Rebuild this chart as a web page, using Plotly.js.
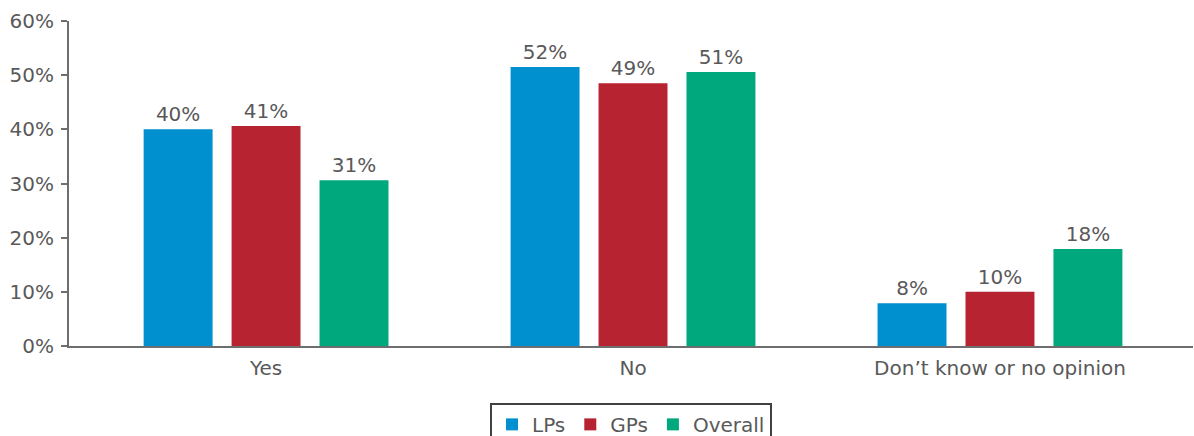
<!DOCTYPE html>
<html>
<head>
<meta charset="utf-8">
<script src="https://cdn.plot.ly/plotly-3.0.1.min.js"></script>
<style>html,body{margin:0;padding:0;background:#fff;}#chart{width:1194px;height:436px;}</style>
</head>
<body>
<div id="chart"></div>
<script>
const categories = ["Yes", "No", "Don\u2019t know or no opinion"];
const seriesNames = ["LPs", "GPs", "Overall"];
const lpValues = [40.0, 51.5, 7.9];
const gpValues = [40.6, 48.5, 10.0];
const overallValues = [30.6, 50.6, 17.9];
const seriesColors = ["#0090d0", "#b72331", "#00a87e"];
const yTickVals = [0, 10, 20, 30, 40, 50, 60];
const yTickText = ["0%", "10%", "20%", "30%", "40%", "50%", "60%"];

const textColor = "#595959";
const fontFamily = "'DejaVu Sans', sans-serif";
const values = [lpValues, gpValues, overallValues];

const traces = values.map((v, i) => ({
  type: "bar",
  name: seriesNames[i],
  x: categories,
  y: v,
  marker: {color: seriesColors[i]},
  texttemplate: "%{y:.0f}%",
  textposition: "outside",
  cliponaxis: false,
  textfont: {color: textColor, size: 20, family: fontFamily},
  hoverinfo: "none"
}));

const layout = {
  width: 1194,
  height: 436,
  margin: {l: 69, r: 1, t: 21, b: 90, autoexpand: false},
  paper_bgcolor: "#fff",
  plot_bgcolor: "#fff",
  font: {family: fontFamily, color: textColor, size: 20},
  barmode: "group",
  bargap: 0.281,
  bargroupgap: 0.216,
  showlegend: true,
  legend: {
    orientation: "h",
    x: 0.5, xanchor: "center",
    y: -0.175, yanchor: "top",
    bordercolor: "#404040",
    borderwidth: 2,
    font: {size: 20, color: textColor, family: fontFamily},
    itemwidth: 30,
    tracegroupgap: 0
  },
  xaxis: {
    type: "category",
    range: [-0.537, 2.526],
    showgrid: false,
    zeroline: false,
    showline: true,
    linecolor: "#6e6e6e",
    linewidth: 2,
    ticks: "",
    ticklabelstandoff: 3,
    tickfont: {size: 20, color: textColor, family: fontFamily},
    fixedrange: true
  },
  yaxis: {
    range: [0, 60],
    tickvals: yTickVals,
    ticktext: yTickText,
    showgrid: false,
    zeroline: false,
    showline: true,
    linecolor: "#6e6e6e",
    linewidth: 2,
    ticks: "outside",
    ticklen: 6,
    tickwidth: 2,
    tickcolor: "#6e6e6e",
    ticklabelstandoff: 3,
    tickfont: {size: 20, color: textColor, family: fontFamily},
    fixedrange: true
  }
};

Plotly.newPlot("chart", traces, layout, {displayModeBar: false, staticPlot: true});
</script>
</body>
</html>
